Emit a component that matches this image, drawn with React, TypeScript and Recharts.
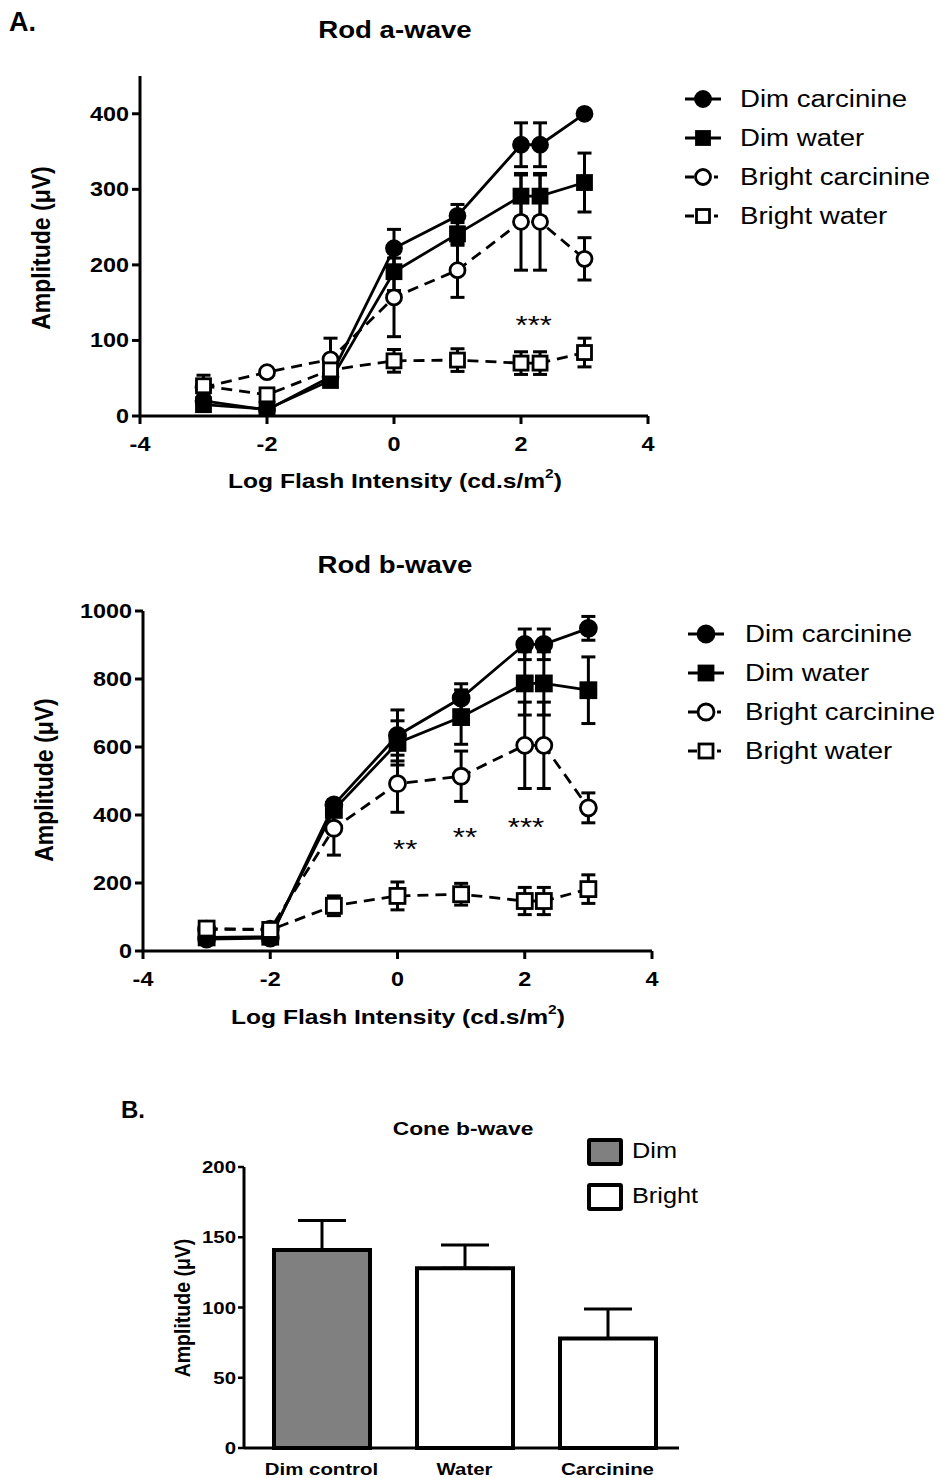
import React from 'react';
import { LineChart, Line, XAxis, YAxis, ErrorBar, ReferenceDot, BarChart, Bar, Cell } from 'recharts';

const FONT = '"Liberation Sans", Arial, Helvetica, sans-serif';
const SX = 1.2;

// ---------- Rod ERG charts (shared) ----------
const flashIntensity = [-3, -2, -1, 0, 1, 2, 2.3, 3];
const xTickValues = [-4, -2, 0, 2, 4];
const seriesLabels = ['Dim carcinine', 'Dim water', 'Bright carcinine', 'Bright water'];

// Rod a-wave
const aDimCarcinine = [20, 8, 52, 222, 265, 359, 359, 400];
const aDimCarcinineErr = [5, 5, 8, 25, 15, 29, 29, 3];
const aDimWater = [15, 9, 47, 191, 241, 291, 291, 309];
const aDimWaterErr = [5, 5, 5, 25, 15, 28, 28, 39];
const aBrightCarcinine = [38, 58, 75, 157, 193, 257, 257, 208];
const aBrightCarcinineErr = [10, 5, 28, 52, 36, 64, 64, 28];
const aBrightWater = [40, 28, 61, 73, 74, 70, 70, 84];
const aBrightWaterErr = [14, 5, 8, 15, 15, 15, 15, 19];
const aYTicks = [0, 100, 200, 300, 400];
const aStars = [{ x: 2.2, y: 129, text: '***' }];

// Rod b-wave
const bDimCarcinine = [35, 38, 430, 634, 744, 902, 902, 949];
const bDimCarcinineErr = [5, 5, 15, 75, 42, 45, 45, 35];
const bDimWater = [40, 42, 415, 612, 688, 787, 787, 767];
const bDimWaterErr = [5, 5, 15, 65, 80, 93, 93, 98];
const bBrightCarcinine = [64, 64, 361, 492, 514, 605, 605, 421];
const bBrightCarcinineErr = [8, 8, 79, 84, 74, 127, 127, 44];
const bBrightWater = [66, 62, 133, 162, 167, 147, 147, 182];
const bBrightWaterErr = [10, 20, 29, 41, 32, 40, 40, 42];
const bYTicks = [0, 200, 400, 600, 800, 1000];
const bStars = [
  { x: 0.12, y: 318, text: '**' },
  { x: 1.06, y: 356, text: '**' },
  { x: 2.02, y: 385, text: '***' },
];

// Cone b-wave
const coneGroups = ['Dim control', 'Water', 'Carcinine'];
const coneAmplitude = [141, 128, 78];
const coneErr = [21, 16.5, 21];
const coneCondition = ['Dim', 'Bright', 'Bright'];
const coneLegend = ['Dim', 'Bright'];
const coneYTicks = [0, 50, 100, 150, 200];

const seriesStyle = [
  { key: 'dc', shape: 'circle', filled: true, dashed: false },
  { key: 'dw', shape: 'square', filled: true, dashed: false },
  { key: 'bc', shape: 'circle', filled: false, dashed: true },
  { key: 'bw', shape: 'square', filled: false, dashed: true },
];

function buildRows(values: number[][], errs: number[][]) {
  return flashIntensity.map((x, i) => {
    const row: any = { x };
    seriesStyle.forEach((s, k) => {
      row[s.key] = values[k][i];
      row[s.key + 'Err'] = errs[k][i];
    });
    return row;
  });
}

const aRows = buildRows(
  [aDimCarcinine, aDimWater, aBrightCarcinine, aBrightWater],
  [aDimCarcinineErr, aDimWaterErr, aBrightCarcinineErr, aBrightWaterErr]
);
const bRows = buildRows(
  [bDimCarcinine, bDimWater, bBrightCarcinine, bBrightWater],
  [bDimCarcinineErr, bDimWaterErr, bBrightCarcinineErr, bBrightWaterErr]
);
const coneRows = coneGroups.map((g, i) => ({
  group: g,
  amp: coneAmplitude[i],
  err: [0, coneErr[i]],
  condition: coneCondition[i],
}));

// ---------- helpers ----------
function Txt({ x, y, size, bold = true, anchor = 'middle', sx = SX, children }: any) {
  const tx = anchor === 'middle' ? '-50%' : '0';
  return (
    <div
      style={{
        position: 'absolute',
        left: x,
        top: y,
        transform: `translate(${tx}, -50%) scaleX(${sx})`,
        transformOrigin: anchor === 'middle' ? 'center center' : 'left center',
        fontFamily: FONT,
        fontWeight: bold ? 'bold' : 'normal',
        fontSize: size,
        lineHeight: 1,
        whiteSpace: 'nowrap',
        color: '#000',
      }}
    >
      {children}
    </div>
  );
}

function VTxt({ x, y, size, children }: any) {
  return (
    <div
      style={{
        position: 'absolute',
        left: x,
        top: y,
        transform: 'translate(-50%, -50%) rotate(-90deg) scaleY(1.1)',
        transformOrigin: 'center center',
        fontFamily: FONT,
        fontWeight: 'bold',
        fontSize: size,
        lineHeight: 1,
        whiteSpace: 'nowrap',
        color: '#000',
      }}
    >
      {children}
    </div>
  );
}

const makeXTick = (size: number, dy: number) => (p: any) => (
  <g transform={`translate(${p.x},${p.y + dy}) scale(${SX},1)`}>
    <text x={0} y={0} textAnchor="middle" fontFamily={FONT} fontWeight="bold" fontSize={size} fill="#000">
      {p.payload.value}
    </text>
  </g>
);

const makeYTick = (size: number) => (p: any) => (
  <g transform={`translate(${p.x},${p.y}) scale(${SX},1)`}>
    <text x={0} y={0} dy="0.36em" textAnchor="end" fontFamily={FONT} fontWeight="bold" fontSize={size} fill="#000">
      {p.payload.value}
    </text>
  </g>
);

const makeDot = (shape: string, filled: boolean, r: number) => (p: any) => {
  const { cx, cy, index } = p;
  if (cx == null || cy == null) return <g key={`e${index}`} />;
  const fill = filled ? '#000' : '#fff';
  if (shape === 'circle')
    return <circle key={`c${index}`} cx={cx} cy={cy} r={r} fill={fill} stroke="#000" strokeWidth={2.8} />;
  const h = r - 0.5;
  return <rect key={`s${index}`} x={cx - h} y={cy - h} width={2 * h} height={2 * h} fill={fill} stroke="#000" strokeWidth={2.8} />;
};

function LegendSymbol({ shape, filled, dashed, r }: any) {
  const fill = filled ? '#000' : '#fff';
  const h = r - 1;
  return (
    <svg width={40} height={24} style={{ display: 'block' }}>
      {dashed ? (
        <>
          <line x1={2} y1={12} x2={11} y2={12} stroke="#000" strokeWidth={3} />
          <line x1={31} y1={12} x2={35} y2={12} stroke="#000" strokeWidth={3} />
        </>
      ) : (
        <line x1={2} y1={12} x2={38} y2={12} stroke="#000" strokeWidth={3} />
      )}
      {shape === 'circle' ? (
        <circle cx={20} cy={12} r={r} fill={fill} stroke="#000" strokeWidth={2.8} />
      ) : (
        <rect x={20 - h} y={12 - h} width={2 * h} height={2 * h} fill={fill} stroke="#000" strokeWidth={2.8} />
      )}
    </svg>
  );
}

function RodLegend({ left, textLeft, top, r }: any) {
  return (
    <>
      {seriesLabels.map((label, i) => (
        <React.Fragment key={label}>
          <div style={{ position: 'absolute', left, top: top + i * 39 - 12 }}>
            <LegendSymbol {...seriesStyle[i]} r={r} />
          </div>
          <Txt x={textLeft} y={top + i * 39} size={23} bold={false} anchor="start" sx={1.2}>
            {label}
          </Txt>
        </React.Fragment>
      ))}
    </>
  );
}

function RodChart({ top, rows, left, right, yDomain, yTicks, stars, r }: any) {
  const W = 945, H = 520, plotTop = 76, plotBottom = 416;
  const yAxisW = 60, xAxisH = 60;
  return (
    <div style={{ position: 'absolute', left: 0, top, width: W, height: H }}>
      <LineChart
        width={W}
        height={H}
        data={rows}
        margin={{ top: plotTop, right: W - right, left: left - yAxisW, bottom: H - plotBottom - xAxisH }}
      >
        <XAxis
          type="number"
          dataKey="x"
          domain={[-4, 4]}
          ticks={xTickValues}
          interval={0}
          height={xAxisH}
          axisLine={{ stroke: '#000', strokeWidth: 3 }}
          tickLine={{ stroke: '#000', strokeWidth: 3 }}
          tickSize={8}
          tickMargin={2}
          tick={makeXTick(19.5, 25)}
        />
        <YAxis
          type="number"
          domain={yDomain}
          ticks={yTicks}
          interval={0}
          width={yAxisW}
          allowDataOverflow
          axisLine={{ stroke: '#000', strokeWidth: 3 }}
          tickLine={{ stroke: '#000', strokeWidth: 3 }}
          tickSize={8}
          tickMargin={3}
          tick={makeYTick(19.5)}
        />
        {seriesStyle.map((s) => (
          <Line
            key={s.key}
            type="linear"
            dataKey={s.key}
            stroke="#000"
            strokeWidth={2.8}
            strokeDasharray={s.dashed ? '11 7' : undefined}
            dot={makeDot(s.shape, s.filled, r)}
            activeDot={false}
            isAnimationActive={false}
          >
            <ErrorBar dataKey={s.key + 'Err'} width={7} strokeWidth={3} stroke="#000" direction="y" />
          </Line>
        ))}
        {stars.map((st: any, i: number) => (
          <ReferenceDot
            key={i}
            x={st.x}
            y={st.y}
            r={0}
            ifOverflow="visible"
            shape={(p: any) => (
              <g transform={`translate(${p.cx},${p.cy}) scale(${SX},1)`}>
                <text x={0} y={0} dy="0.6em" textAnchor="middle" fontFamily={FONT} fontSize={26} fill="#000">
                  {st.text}
                </text>
              </g>
            )}
          />
        ))}
      </LineChart>
    </div>
  );
}

const catTick = (p: any) => (
  <g transform={`translate(${p.x},${p.y + 27}) scale(${SX},1)`}>
    <text x={0} y={0} textAnchor="middle" fontFamily={FONT} fontWeight="bold" fontSize={17} fill="#000">
      {p.payload.value}
    </text>
  </g>
);

function ConeChart({ top }: any) {
  const W = 945, H = 388;
  return (
    <div style={{ position: 'absolute', left: 0, top, width: W, height: H }}>
      <BarChart width={W} height={H} data={coneRows} margin={{ top: 77, right: 266, left: 244 - 60, bottom: 0 }} barSize={96}>
        <XAxis
          dataKey="group"
          height={30}
          interval={0}
          padding={{ left: 6, right: 0 }}
          axisLine={{ stroke: '#000', strokeWidth: 3 }}
          tickLine={false}
          tickSize={0}
          tickMargin={0}
          tick={catTick}
        />
        <YAxis
          type="number"
          domain={[0, 200]}
          ticks={coneYTicks}
          interval={0}
          width={60}
          axisLine={{ stroke: '#000', strokeWidth: 3 }}
          tickLine={{ stroke: '#000', strokeWidth: 2.5 }}
          tickSize={6}
          tickMargin={2}
          tick={makeYTick(17)}
        />
        <Bar dataKey="amp" stroke="#000" strokeWidth={4} isAnimationActive={false}>
          {coneRows.map((row, i) => (
            <Cell key={i} fill={row.condition === 'Dim' ? '#808080' : '#ffffff'} />
          ))}
          <ErrorBar dataKey="err" width={24} strokeWidth={3} stroke="#000" direction="y" />
        </Bar>
      </BarChart>
    </div>
  );
}

function ConeLegend() {
  return (
    <>
      {coneLegend.map((label, i) => (
        <React.Fragment key={label}>
          <div
            style={{
              position: 'absolute',
              left: 587,
              top: 1138 + i * 45,
              width: 28,
              height: 20,
              border: '4px solid #000',
              borderRadius: 3,
              background: label === 'Dim' ? '#808080' : '#ffffff',
            }}
          />
          <Txt x={632} y={1151 + i * 45} size={22} bold={false} anchor="start" sx={1.15}>
            {label}
          </Txt>
        </React.Fragment>
      ))}
    </>
  );
}

export default function App() {
  return (
    <div style={{ position: 'absolute', left: 0, top: 0, width: 945, height: 1478, background: '#fff', overflow: 'hidden' }}>
      <Txt x={9} y={22} size={27} anchor="start" sx={1.0}>A.</Txt>

      <RodChart top={0} rows={aRows} left={140} right={648} yDomain={[0, 450]} yTicks={aYTicks} stars={aStars} r={7.5} />
      <Txt x={395} y={30} size={23}>Rod a-wave</Txt>
      <VTxt x={42} y={248} size={23}>Amplitude (μV)</VTxt>
      <Txt x={395} y={481} size={20.5}>
        Log Flash Intensity (cd.s/m<sup style={{ fontSize: 13, verticalAlign: 'top', lineHeight: 1, position: 'relative', top: -4 }}>2</sup>)
      </Txt>
      <RodLegend left={683} textLeft={740} top={99} r={7.5} />

      <RodChart top={535} rows={bRows} left={143} right={652} yDomain={[0, 1000]} yTicks={bYTicks} stars={bStars} r={8} />
      <Txt x={395} y={565} size={23}>Rod b-wave</Txt>
      <VTxt x={45} y={780} size={23}>Amplitude (μV)</VTxt>
      <Txt x={398} y={1017} size={20.5}>
        Log Flash Intensity (cd.s/m<sup style={{ fontSize: 13, verticalAlign: 'top', lineHeight: 1, position: 'relative', top: -4 }}>2</sup>)
      </Txt>
      <RodLegend left={686} textLeft={745} top={634} r={8} />

      <Txt x={121} y={1110} size={24} anchor="start" sx={1.0}>B.</Txt>
      <ConeChart top={1090} />
      <Txt x={463} y={1128} size={19}>Cone b-wave</Txt>
      <VTxt x={183} y={1308} size={19.5}>Amplitude (μV)</VTxt>
      <ConeLegend />
    </div>
  );
}
